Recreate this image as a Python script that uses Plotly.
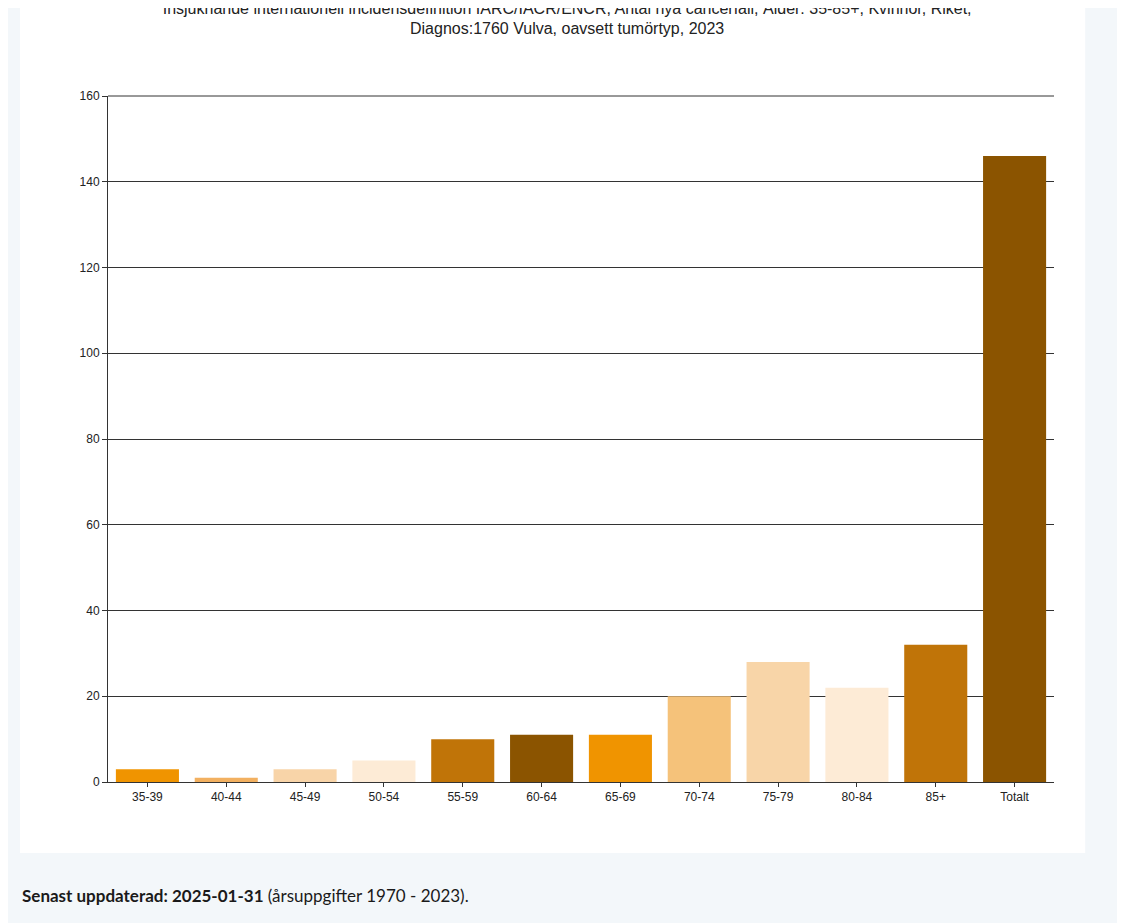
import plotly.graph_objects as go

age_groups = ["35-39", "40-44", "45-49", "50-54", "55-59", "60-64", "65-69",
              "70-74", "75-79", "80-84", "85+", "Totalt"]
new_cases = [3, 1, 3, 5, 10, 11, 11, 20, 28, 22, 32, 146]
bar_colors = ["#f09400", "#f2b060", "#f8d4a8", "#fdebd6", "#c07408", "#8b5400",
              "#f09400", "#f5c27a", "#f8d5a8", "#fdebd6", "#c07408", "#8b5400"]

fig = go.Figure(go.Bar(x=age_groups, y=new_cases, marker_color=bar_colors,
                       marker_line_width=0, width=0.8))

# white chart panel on light page background
fig.add_shape(type="rect", xref="paper", yref="paper",
              x0=-0.093, x1=1.033, y0=-0.1035, y1=1.16,
              fillcolor="white", line_width=0, layer="below")
# top gridline at 160
fig.add_shape(type="line", xref="paper", yref="paper", x0=0, x1=1, y0=1, y1=1,
              line=dict(color="#333", width=1))

fig.add_annotation(xref="paper", yref="paper", x=-0.093, y=-0.165,
                   xanchor="left", yanchor="middle", showarrow=False,
                   text="<b>Senast uppdaterad: 2025-01-31</b> (årsuppgifter 1970 - 2023).",
                   font=dict(family="Lato, Open Sans, sans-serif", size=17, color="#1a1a1a"))

fig.update_layout(
    width=1125, height=923,
    margin=dict(l=100, r=79, t=88, b=149),
    paper_bgcolor="#f3f7fa", plot_bgcolor="white",
    font=dict(family="Arial, Liberation Sans, sans-serif", size=12, color="#222"),
    title=dict(text="Insjuknande internationell incidensdefinition IARC/IACR/ENCR, Antal nya cancerfall, Ålder: 35-85+, Kvinnor, Riket,<br>Diagnos:1760 Vulva, oavsett tumörtyp, 2023",
               x=0.497, xanchor="center", y=0.994, yanchor="top",
               font=dict(size=16, color="#222")),
    showlegend=False,
    bargap=0.2,
)
fig.update_yaxes(range=[0, 160], dtick=20, showgrid=True, gridcolor="#333",
                 gridwidth=1, showline=True, linecolor="#333", ticks="outside",
                 ticklen=5, tickcolor="#333", zeroline=False)
fig.update_xaxes(showline=True, linecolor="#333", ticks="outside", ticklen=4,
                 tickcolor="#333")

fig.write_html("out.html")
